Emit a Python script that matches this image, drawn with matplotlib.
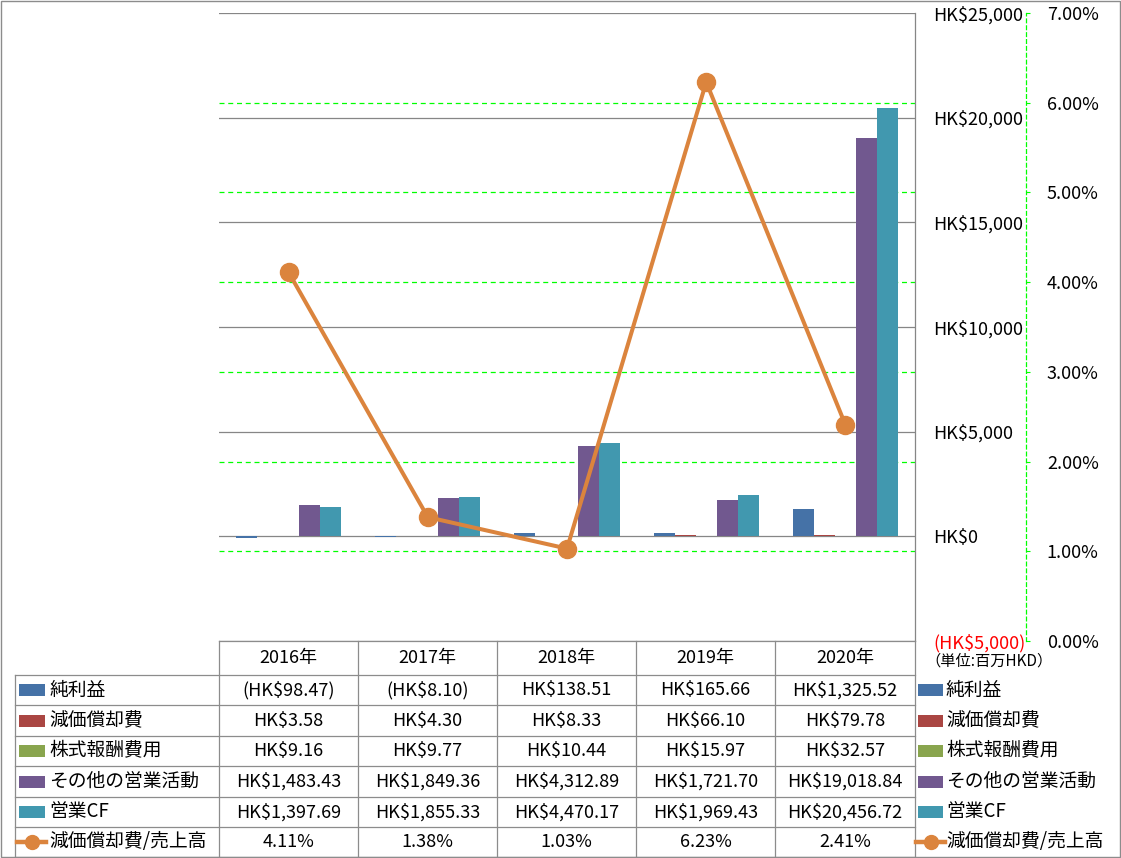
import matplotlib
matplotlib.use("Agg")
import matplotlib.pyplot as plt
from matplotlib.patches import Rectangle
from matplotlib.lines import Line2D
from matplotlib.transforms import blended_transform_factory
import numpy as np

plt.rcParams['font.family'] = ['Noto Sans CJK JP', 'DejaVu Sans']

# ---------------- data ----------------
years = ["2016年", "2017年", "2018年", "2019年", "2020年"]
series_names = ["純利益", "減価償却費", "株式報酬費用", "その他の営業活動", "営業CF"]
net_income = [-98.47, -8.10, 138.51, 165.66, 1325.52]
depreciation = [3.58, 4.30, 8.33, 66.10, 79.78]
stock_comp = [9.16, 9.77, 10.44, 15.97, 32.57]
other_ops = [1483.43, 1849.36, 4312.89, 1721.70, 19018.84]
operating_cf = [1397.69, 1855.33, 4470.17, 1969.43, 20456.72]
ratio_name = "減価償却費/売上高"
dep_ratio = [4.11, 1.38, 1.03, 6.23, 2.41]  # percent
left_ticks = [-5000, 0, 5000, 10000, 15000, 20000, 25000]
right_ticks = [0, 1, 2, 3, 4, 5, 6, 7]
unit_label = "（単位:百万HKD）"

series_values = [net_income, depreciation, stock_comp, other_ops, operating_cf]
colors = ["#4572A7", "#AA4643", "#89A54E", "#71588F", "#4198AF"]
line_color = "#DB843D"
grid_gray = "#868686"
green = "#00FF00"
FS = 13


def money(v, dec=2):
    s = "HK\\$" + f"{abs(v):,.{dec}f}"
    return f"({s})" if v < 0 else s


W, H = 1121, 858
fig = plt.figure(figsize=(W / 100, H / 100), dpi=100)

# ---------------- chart ----------------
ax = fig.add_axes([219 / W, 1 - 641 / H, (915 - 219) / W, (641 - 13) / H])
ax2 = ax.twinx()

x = np.arange(len(years))
bw = 0.151
for i, (vals, c) in enumerate(zip(series_values, colors)):
    ax.bar(x + (i - 2) * bw, vals, bw, color=c, zorder=1, linewidth=0)

ax.set_xlim(-0.5, len(years) - 0.5)
ax.set_ylim(left_ticks[0], left_ticks[-1])
ax.set_xticks([])
ax.yaxis.tick_right()
ax.set_yticks(left_ticks, labels=[money(v, 0) for v in left_ticks])
ax.tick_params(axis='y', length=0, pad=13, labelsize=FS)
for lab, v in zip(ax.get_yticklabels(), left_ticks):
    lab.set_color('red' if v < 0 else 'black')
ax.yaxis.grid(True, color=grid_gray, lw=0.9)
ax.set_axisbelow(True)
for s in ['top', 'left', 'bottom']:
    ax.spines[s].set_visible(False)
ax.spines['right'].set_color(grid_gray)
ax.spines['right'].set_linewidth(0.9)

ax2.set_ylim(right_ticks[0], right_ticks[-1])
ax2.set_yticks(right_ticks, labels=[f"{v:.2f}%" for v in right_ticks])
ax2.spines['right'].set_position(('axes', (1026 - 219) / (915 - 219)))
ax2.spines['right'].set_color(green)
ax2.spines['right'].set_linestyle((0, (3, 2.5)))
ax2.spines['right'].set_linewidth(0.9)
for s in ['top', 'left', 'bottom']:
    ax2.spines[s].set_visible(False)
ax2.tick_params(axis='y', direction='out', length=3, color=green, pad=12,
                labelsize=FS, labelcolor='black')

# secondary gridlines drawn behind the bars
btr = blended_transform_factory(ax.transAxes, ax2.transData)
for v in right_ticks[1:-1]:
    ax.add_line(Line2D([0, 1], [v, v], transform=btr, color=green, lw=0.9,
                       ls=(0, (4, 3)), zorder=0.6))

ax2.plot(x, dep_ratio, color=line_color, lw=2.9, marker='o', ms=13,
         zorder=3, solid_capstyle='round')

# ---------------- data table ----------------
tax = fig.add_axes([0, 0, 1, 1])
tax.set_xlim(0, W)
tax.set_ylim(H, 0)
tax.axis('off')
tax.patch.set_visible(False)

col_x = [219, 358, 497, 636, 775, 915]
row_y = [641, 675, 705, 736, 766, 797, 827, 857]
lc = "#8c8c8c"
lw = 0.9
tax.plot([col_x[0], col_x[-1]], [row_y[0], row_y[0]], color=lc, lw=lw)
for yy in row_y[1:]:
    tax.plot([15, col_x[-1]], [yy, yy], color=lc, lw=lw)
tax.plot([15, 15], [row_y[1], row_y[-1]], color=lc, lw=lw)
for xx in col_x:
    tax.plot([xx, xx], [row_y[0], row_y[-1]], color=lc, lw=lw)

def cx(i):
    return (col_x[i] + col_x[i + 1]) / 2

def cy(r):
    return (row_y[r] + row_y[r + 1]) / 2

for i, yr in enumerate(years):
    tax.text(cx(i), cy(0), yr, ha='center', va='center', fontsize=FS)

for r, (name, vals, c) in enumerate(zip(series_names, series_values, colors)):
    yc = cy(r + 1)
    for i, v in enumerate(vals):
        tax.text(cx(i), yc, money(v), ha='center', va='center', fontsize=FS)
    tax.add_patch(Rectangle((19, yc - 6), 26, 12, color=c, lw=0))
    tax.text(49, yc, name, ha='left', va='center', fontsize=FS + 0.5)
    tax.add_patch(Rectangle((918, yc - 6), 25, 12, color=c, lw=0))
    tax.text(946, yc, name, ha='left', va='center', fontsize=FS + 0.5)

yc = cy(6)
for i, v in enumerate(dep_ratio):
    tax.text(cx(i), yc, f"{v:.2f}%", ha='center', va='center', fontsize=FS)
for x0 in (17, 916):
    tax.plot([x0, x0 + 29], [yc, yc], color=line_color, lw=3.2)
    tax.plot([x0 + 14.5], [yc], marker='o', ms=10, color=line_color)
tax.text(49, yc, ratio_name, ha='left', va='center', fontsize=FS + 0.5)
tax.text(946, yc, ratio_name, ha='left', va='center', fontsize=FS + 0.5)

tax.text(925, 661, unit_label, ha='left', va='center', fontsize=11)

tax.add_patch(Rectangle((0.5, 0.5), W - 1.5, H - 1.5, fill=False, ec=lc, lw=1))

fig.savefig("out.png", dpi=100)
